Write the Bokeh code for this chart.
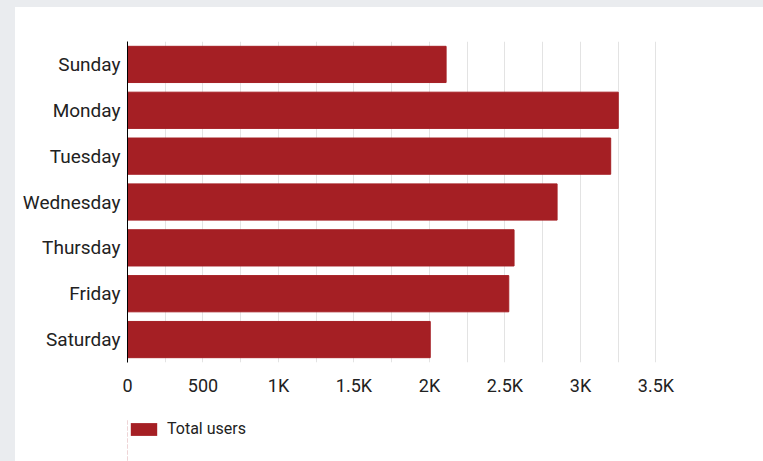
from bokeh.plotting import figure
from bokeh.models import (FactorRange, Range1d, SingleIntervalTicker, CustomJSTickFormatter,
                          Legend, LegendItem, ColumnDataSource, Spacer, BoxAnnotation)
from bokeh.layouts import column, row
from bokeh.embed import file_html
from bokeh.resources import INLINE

days = ["Sunday", "Monday", "Tuesday", "Wednesday", "Thursday", "Friday", "Saturday"]
total_users = [2110, 3250, 3200, 2845, 2560, 2525, 2005]
series_name = "Total users"

BAR = "#a51f24"
TXT = "#222222"
FONT = "Roboto"
BG = "#eaecef"

src = ColumnDataSource(dict(day=days, users=total_users))

p = figure(width=748, height=400, output_backend="svg", toolbar_location=None,
           y_range=FactorRange(factors=days[::-1], range_padding=0),
           x_range=Range1d(0, 3510),
           min_border_left=112, min_border_top=34, min_border_right=106, min_border_bottom=45)
p.outline_line_color = None
p.background_fill_color = "white"
p.border_fill_color = "white"

r = p.hbar(y="day", right="users", height=0.79, source=src, fill_color=BAR, line_color=BAR)

p.xgrid.ticker = SingleIntervalTicker(interval=250)
p.xgrid.grid_line_color = "#e3e3e3"
p.xgrid.grid_line_width = 1
p.ygrid.grid_line_color = None

p.xaxis.ticker = SingleIntervalTicker(interval=500)
p.xaxis.formatter = CustomJSTickFormatter(code="return tick >= 1000 ? (tick/1000) + 'K' : tick.toString();")
p.xaxis.axis_line_color = None
p.xaxis.major_tick_line_color = None
p.xaxis.minor_tick_line_color = None
p.xaxis.major_tick_out = 0
p.xaxis.minor_tick_out = 0
p.xaxis.major_label_text_font = FONT
p.xaxis.major_label_text_font_size = "18px"
p.xaxis.major_label_text_color = TXT
p.xaxis.major_label_standoff = 12

p.yaxis.axis_line_color = "black"
p.yaxis.axis_line_width = 1
p.yaxis.major_tick_line_color = None
p.yaxis.minor_tick_line_color = None
p.yaxis.major_tick_out = 0
p.yaxis.minor_tick_out = 0
p.yaxis.major_label_text_font = FONT
p.yaxis.major_label_text_font_size = "19px"
p.yaxis.major_label_text_color = TXT
p.yaxis.major_label_standoff = 7

# legend strip below the chart (its bars fall outside its visible range)
p2 = figure(width=748, height=54, output_backend="svg", toolbar_location=None,
            x_axis_type=None, y_axis_type=None, x_range=Range1d(5000, 5001),
            y_range=FactorRange(factors=days[::-1]),
            min_border_left=109, min_border_top=12, min_border_right=0, min_border_bottom=0)
p2.outline_line_color = None
p2.grid.grid_line_color = None
p2.border_fill_color = "white"
p2.background_fill_color = "white"
r2 = p2.hbar(y="day", left=0, right="users", height=0.79, source=src,
             fill_color=BAR, line_color=None)
p2.add_layout(BoxAnnotation(fill_color="white", fill_alpha=1.0, line_color=None))
legend = Legend(items=[LegendItem(label=series_name, renderers=[r2])],
                location="top_left", orientation="horizontal",
                glyph_width=33, glyph_height=16, label_text_font=FONT,
                label_text_font_size="16px", label_text_color=TXT,
                border_line_color=None, background_fill_alpha=0,
                padding=0, margin=0, spacing=0, label_standoff=7)
p2.add_layout(legend, "center")

layout = column(Spacer(width=763, height=7, styles={"background-color": BG}),
                row(Spacer(width=15, height=454, styles={"background-color": BG}),
                    column(p, p2, spacing=0)), spacing=0)

open("out.html", "w").write(file_html(layout, INLINE))
